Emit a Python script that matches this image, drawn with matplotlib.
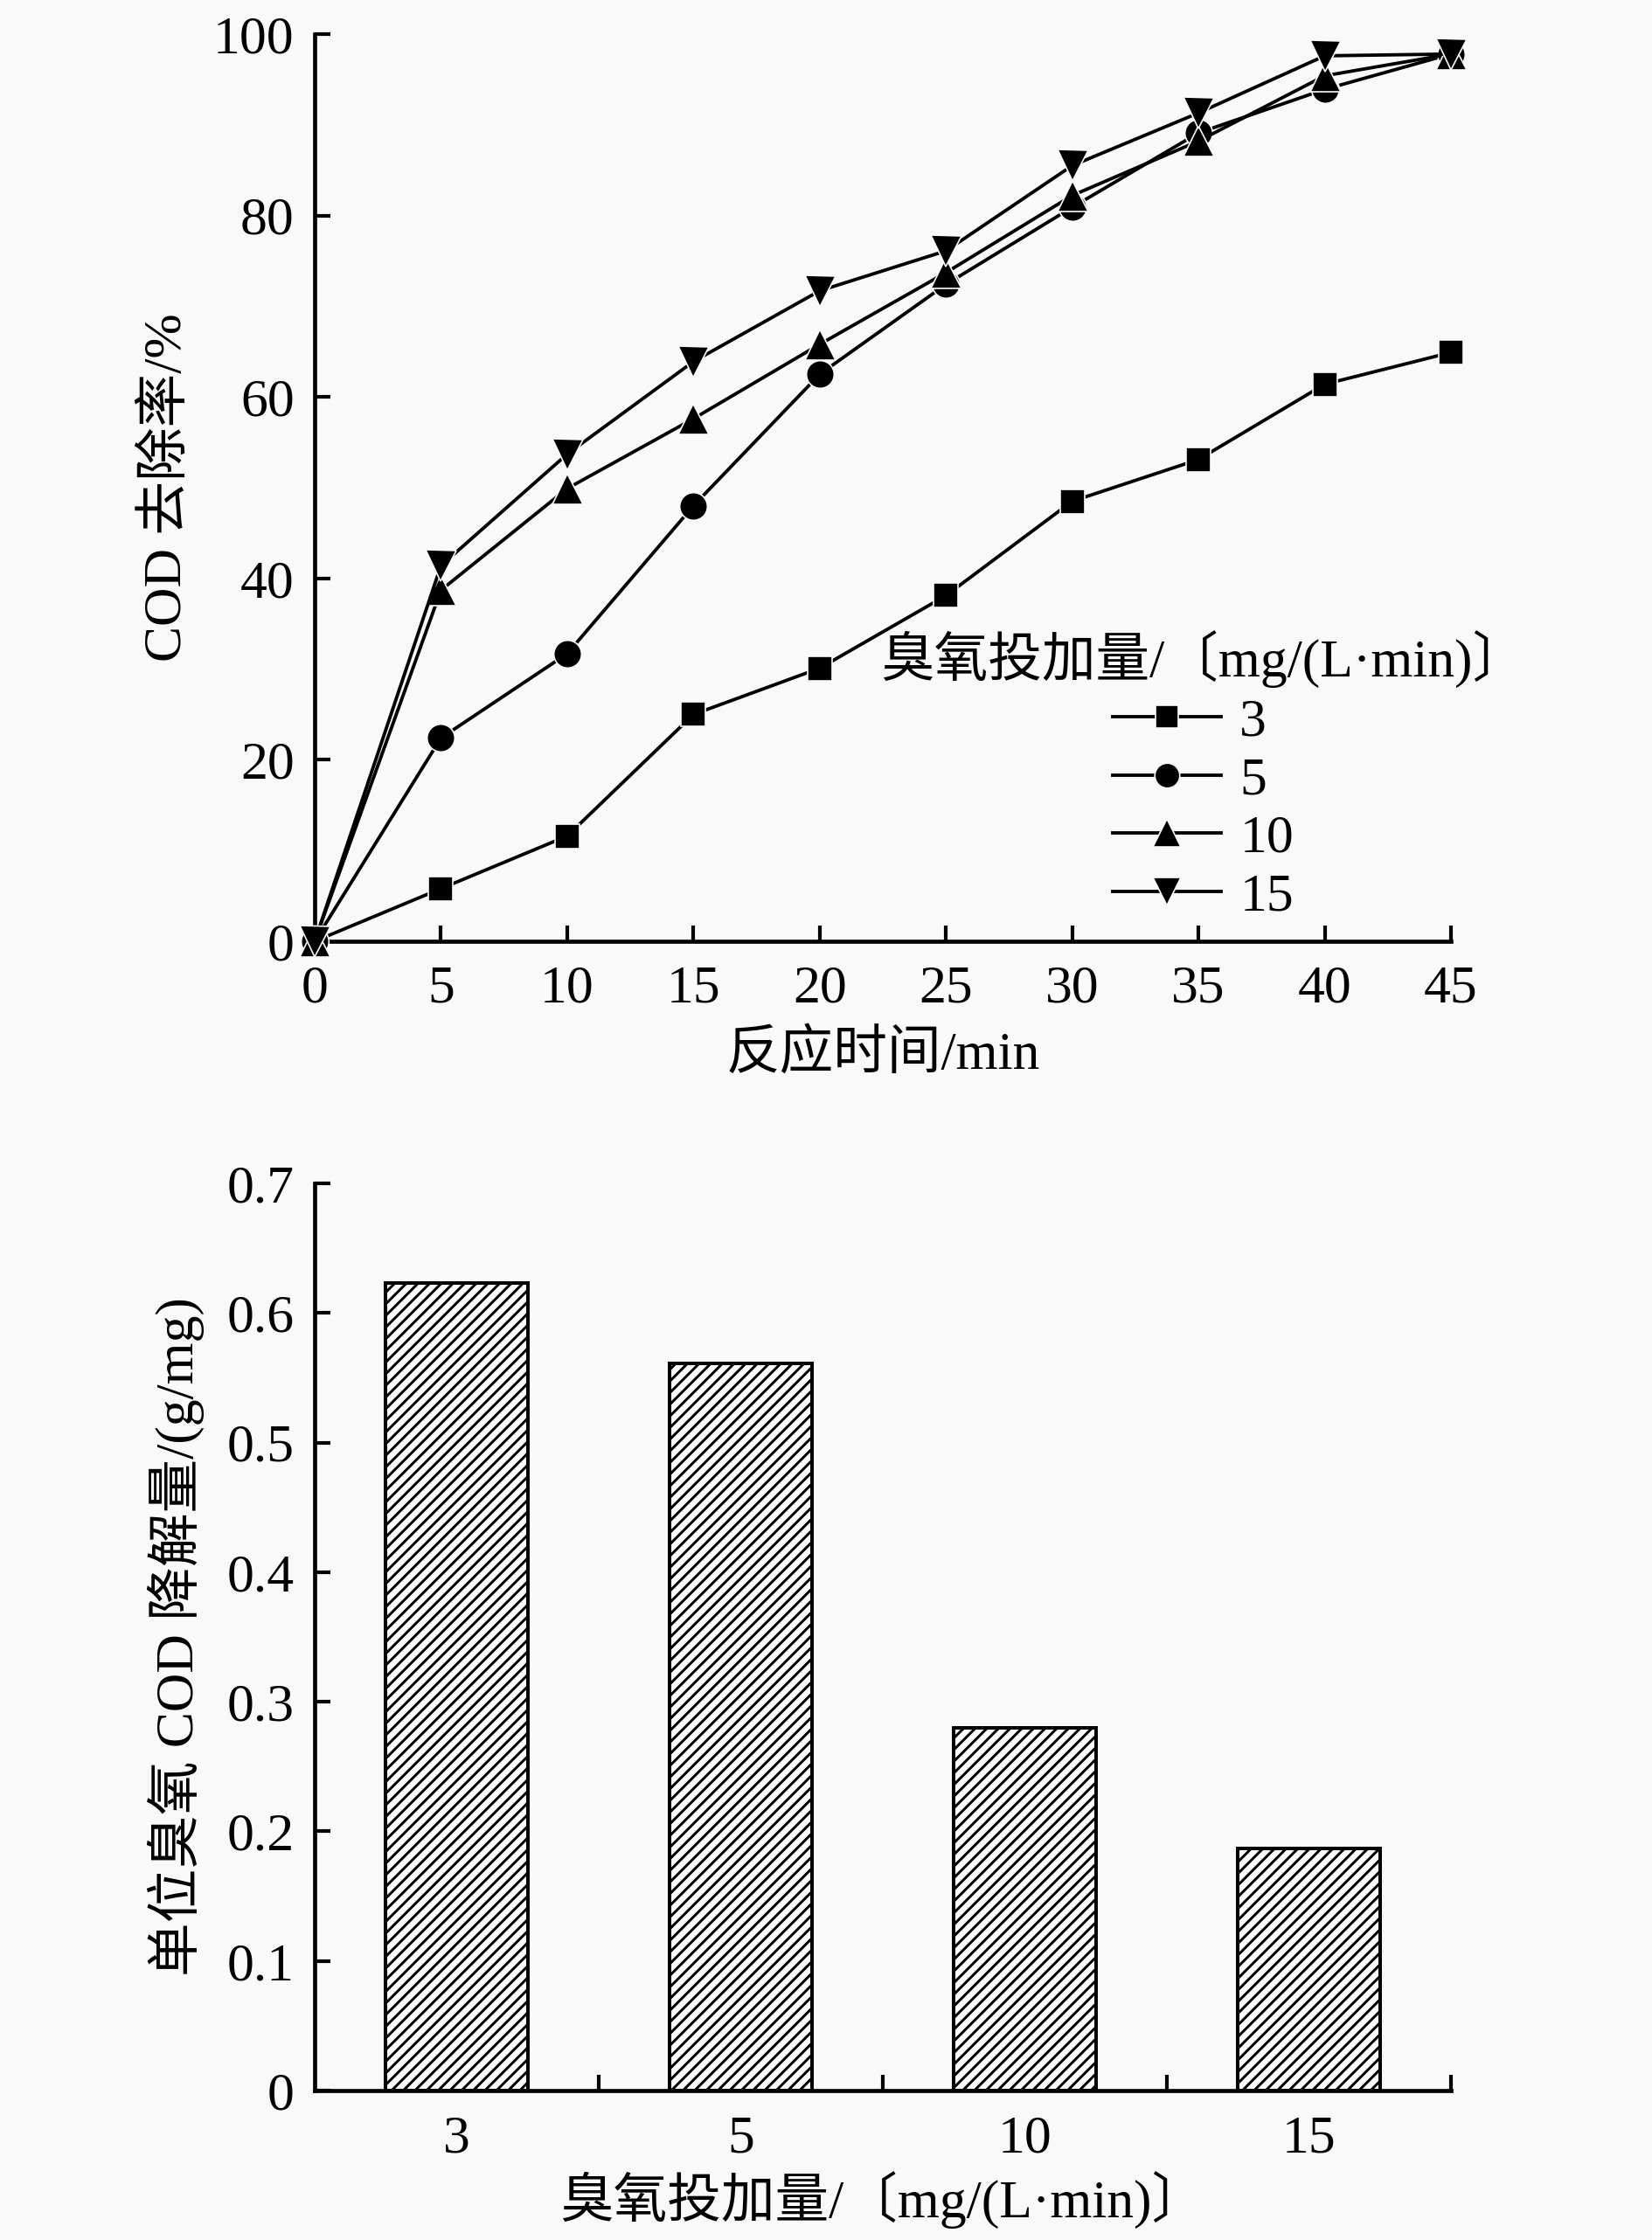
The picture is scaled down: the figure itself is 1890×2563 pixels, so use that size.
import matplotlib
matplotlib.use("Agg")
import matplotlib.pyplot as plt

plt.rcParams["font.family"] = ["Liberation Serif", "Noto Sans CJK SC"]
plt.rcParams["axes.unicode_minus"] = False
plt.rcParams["hatch.linewidth"] = 1.8

# 数据
time_min = [0, 5, 10, 15, 20, 25, 30, 35, 40, 45]
cod_3 = [0, 5.8, 11.6, 25.0, 30.1, 38.1, 48.5, 53.1, 61.4, 64.9]
cod_5 = [0, 22.4, 31.7, 48.0, 62.5, 72.4, 80.9, 89.1, 93.9, 97.8]
cod_10 = [0, 38.7, 49.9, 57.6, 65.8, 73.7, 82.2, 88.2, 95.4, 97.8]
cod_15 = [0, 41.4, 53.7, 63.9, 71.7, 76.1, 85.5, 91.3, 97.6, 97.8]
series_labels = ["3", "5", "10", "15"]

dose_labels = ["3", "5", "10", "15"]
unit_cod = [0.623, 0.561, 0.280, 0.187]

fs = 37
bg = "#f9f9f9"

fig = plt.figure(figsize=(15.75, 2563 / 120), dpi=120, facecolor=bg)

# ---------------- 上图：COD去除率 ----------------
ax1 = fig.add_axes([0.1905, 0.5798, 0.6878, 0.405])
ax1.set_facecolor("none")

styles = [("s", 17), ("o", 19), ("^", 21), ("v", 21)]
for y, lab, (mk, ms) in zip([cod_3, cod_5, cod_10, cod_15], series_labels, styles):
    ax1.plot(time_min, y, color="black", lw=2.3, marker=mk, ms=ms,
             mfc="black", mec=bg, mew=1.0, clip_on=False, zorder=5, label=lab)

ax1.set_xlim(0, 45)
ax1.set_ylim(0, 100)
ax1.set_xticks(range(0, 46, 5))
ax1.set_yticks(range(0, 101, 20))

ax1.set_xlabel("反应时间/min", fontsize=fs)
ax1.set_ylabel("COD 去除率/%", fontsize=fs)
ax1.xaxis.set_label_coords(0.5, -0.097)
ax1.yaxis.set_label_coords(-0.108, 0.5)

leg = ax1.legend(title="臭氧投加量/〔mg/(L·min)〕", loc="upper center",
                 bbox_to_anchor=(0.782, 0.342), frameon=False, fontsize=fs,
                 title_fontsize=fs, handlelength=2.0, handletextpad=0.35,
                 labelspacing=0.17, borderpad=0, borderaxespad=0, markerscale=0.9)

# ---------------- 下图：单位臭氧COD降解量 ----------------
ax2 = fig.add_axes([0.1905, 0.0667, 0.6878, 0.405])
ax2.set_facecolor("none")

pos = list(range(1, len(dose_labels) + 1))
ax2.bar(pos, unit_cod, width=0.5, color="white", edgecolor="black",
        linewidth=2.4, hatch="///", zorder=3)

ax2.set_xlim(0.5, 4.5)
ax2.set_ylim(0, 0.7)
ax2.set_yticks([0, 0.1, 0.2, 0.3, 0.4, 0.5, 0.6, 0.7])
ax2.set_yticklabels(["0", "0.1", "0.2", "0.3", "0.4", "0.5", "0.6", "0.7"])
# 分隔刻度在类别之间，标签在类别中心
ax2.set_xticks([1.5, 2.5, 3.5, 4.5])
ax2.set_xticklabels([])
ax2.set_xticks(pos, minor=True)
ax2.set_xticklabels(dose_labels, minor=True)
ax2.tick_params(axis="x", which="minor", length=0, pad=17, labelsize=fs)

ax2.set_xlabel("臭氧投加量/〔mg/(L·min)〕", fontsize=fs)
ax2.set_ylabel("单位臭氧 COD 降解量/(g/mg)", fontsize=fs)
ax2.xaxis.set_label_coords(0.5, -0.09)
ax2.yaxis.set_label_coords(-0.097, 0.5)

for ax in (ax1, ax2):
    for s in ("top", "right"):
        ax.spines[s].set_visible(False)
    for s in ("left", "bottom"):
        ax.spines[s].set_linewidth(2.8)
    ax.tick_params(axis="both", which="major", direction="in", length=11,
                   width=2.5, labelsize=fs)
    ax.tick_params(axis="x", which="major", pad=16)
    ax.tick_params(axis="y", which="major", pad=14)

fig.savefig("out.png", dpi=120, facecolor=bg)
